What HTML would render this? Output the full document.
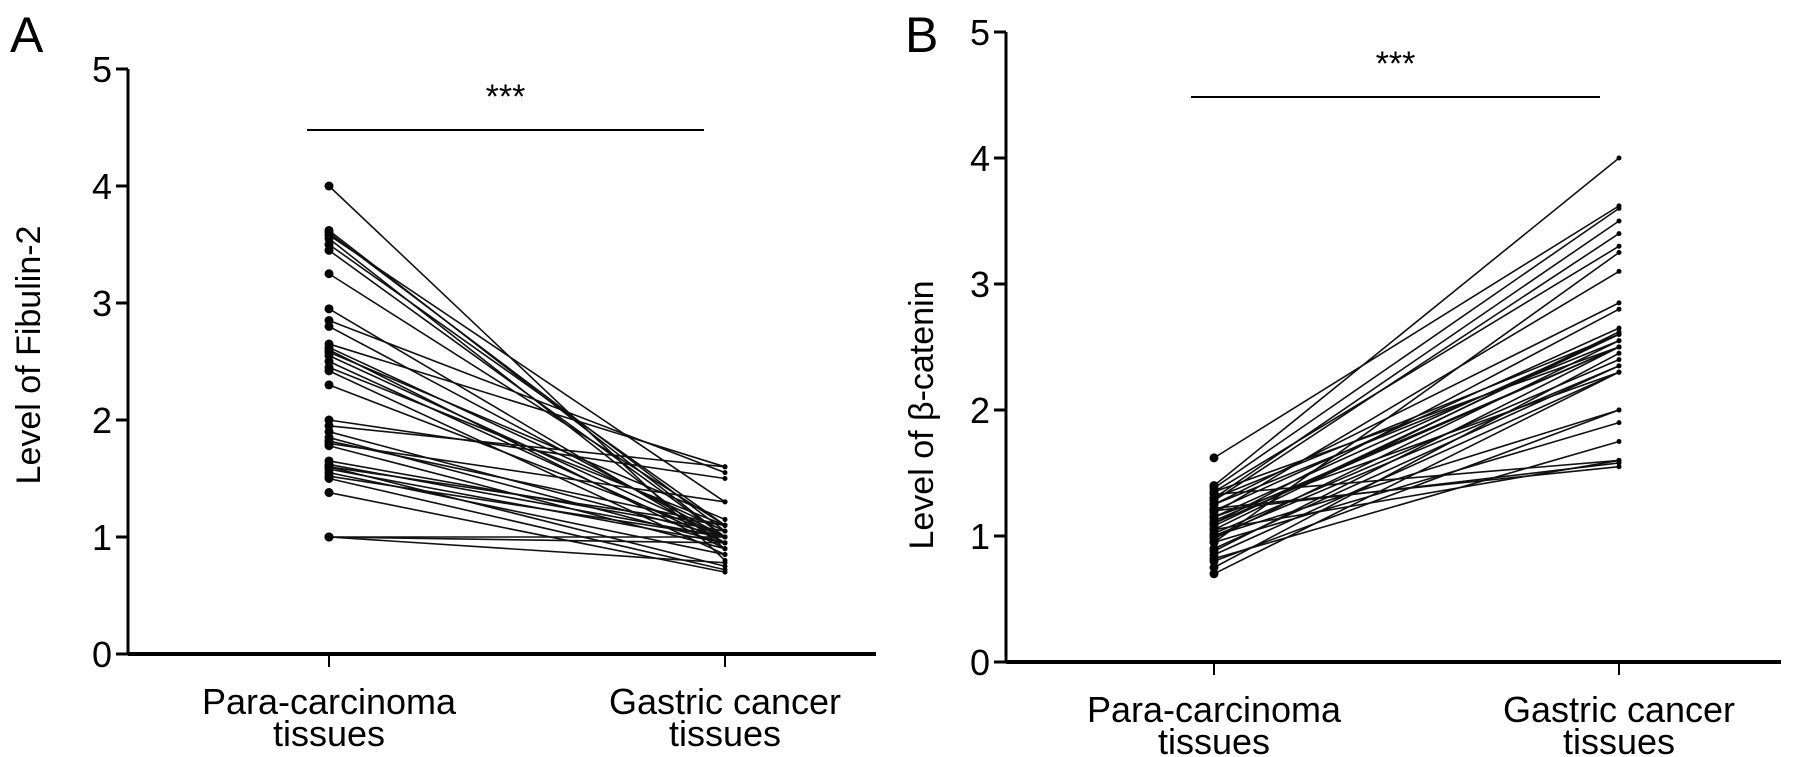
<!DOCTYPE html>
<html><head><meta charset="utf-8"><style>
html,body{margin:0;padding:0;background:#fff;}
svg{display:block;font-family:"Liberation Sans",Arial,sans-serif;}
</style></head><body>
<svg id="fig" width="1795" height="757" viewBox="0 0 1795 757" xmlns="http://www.w3.org/2000/svg">
<text x="10" y="52" font-size="50">A</text>
<text x="905" y="52" font-size="50">B</text>
<g id="pa"></g>
<g id="pb"></g>
</svg>
<script>
const categories = ["Para-carcinoma tissues", "Gastric cancer tissues"];
const yTicks = [0, 1, 2, 3, 4, 5];
const fibulinPara = [4.0,3.62,3.6,3.58,3.55,3.5,3.45,3.25,2.95,2.85,2.8,2.65,2.62,2.6,2.58,2.55,2.5,2.45,2.42,2.3,2.0,1.95,1.9,1.85,1.82,1.8,1.78,1.65,1.62,1.6,1.6,1.58,1.55,1.52,1.5,1.38,1.0,1.0,1.0];
const fibulinGastric = [0.8,1.0,1.05,1.3,0.9,1.1,1.0,1.1,0.95,1.55,1.0,1.6,1.05,0.9,1.15,1.0,0.95,1.1,0.85,1.0,1.5,1.6,1.0,0.95,1.1,1.3,0.9,1.05,1.0,0.75,1.1,0.95,0.85,1.0,0.72,0.7,1.0,0.95,0.78];
const cateninPara = [1.62,1.4,1.38,1.35,1.33,1.3,1.3,1.28,1.25,1.22,1.2,1.18,1.15,1.12,1.1,1.08,1.05,1.02,1.0,0.98,0.95,0.9,0.88,0.85,0.82,0.8,0.75,0.7,1.35,1.25,1.15,1.05,0.95,1.2,1.1,1.0];
const cateninGastric = [3.62,4.0,3.6,2.5,1.6,3.5,2.6,3.4,2.55,1.55,2.65,3.1,2.3,2.5,2.8,2.6,1.6,2.4,2.0,2.55,1.9,2.35,2.5,2.3,1.75,2.0,2.45,2.3,3.3,2.85,2.6,2.62,3.25,1.58,2.5,2.35];

const NS = "http://www.w3.org/2000/svg";
function mk(parent, tag, attrs, text){
  const e = document.createElementNS(NS, tag);
  for (const k in attrs) e.setAttribute(k, attrs[k]);
  if (text !== undefined) e.textContent = text;
  parent.appendChild(e);
  return e;
}
function drawPanel(g, cfg, para, gas){
  const yS = v => cfg.y0 - v * cfg.unit;
  const xS = i => cfg.xs[i];
  const ya = mk(g, "line", {x1:cfg.ax, y1:yS(5), x2:cfg.ax, y2:cfg.y0, stroke:"#000", "stroke-width":3});
  
  
  yTicks.forEach(t => {
    const tk = mk(g, "line", {x1:cfg.ax-12, y1:yS(t), x2:cfg.ax, y2:yS(t), stroke:"#000", "stroke-width":3});
    
    
    const tl = mk(g, "text", {x:cfg.ax-16, y:yS(t)+13, "font-size":36, "text-anchor":"end"}, String(t));
    
    
  });
  const xa = mk(g, "line", {x1:cfg.ax, y1:cfg.y0, x2:cfg.xend, y2:cfg.y0, stroke:"#000", "stroke-width":4});
  
  
  categories.forEach((c, i) => {
    const tk = mk(g, "line", {x1:xS(i), y1:cfg.y0, x2:xS(i), y2:cfg.y0+13, stroke:"#000", "stroke-width":2});
    
    
    const parts = c.split(" ");
    const l1 = parts.slice(0, -1).join(" "), l2 = parts[parts.length-1];
    const t1 = mk(g, "text", {x:xS(i), y:cfg.y0+60, "font-size":36, "text-anchor":"middle"}, l1);
    
    
    const t2 = mk(g, "text", {x:xS(i), y:cfg.y0+92, "font-size":36, "text-anchor":"middle"}, l2);
    
    
  });
  const yt = mk(g, "text", {x:0, y:0, "font-size":34, "text-anchor":"middle", transform:`translate(${cfg.tx},${cfg.ty}) rotate(-90)`}, cfg.title);
  
  
  const br = mk(g, "line", {x1:cfg.bx1, y1:cfg.by, x2:cfg.bx2, y2:cfg.by, stroke:"#000", "stroke-width":2});
  
  
  const st = mk(g, "text", {x:(cfg.bx1+cfg.bx2)/2, y:cfg.by-22, "font-size":34, "text-anchor":"middle"}, "***");
  
  
  para.forEach((v, i) => {
    const ln = mk(g, "line", {x1:xS(0), y1:yS(v), x2:xS(1), y2:yS(gas[i]), stroke:"#111", "stroke-width":1.6});
    
    
  });
  para.forEach((v, i) => {
    const p = mk(g, "circle", {cx:xS(0), cy:yS(v), r:4.5, fill:"#000"});
    
    
    const q = mk(g, "circle", {cx:xS(1), cy:yS(gas[i]), r:2.5, fill:"#000"});
    
    
  });
}
drawPanel(document.getElementById("pa"), {ax:128, y0:654, unit:117, xs:[329,725], xend:876, tx:40, ty:355, title:"Level of Fibulin-2", bx1:307, bx2:704, by:130}, fibulinPara, fibulinGastric);
drawPanel(document.getElementById("pb"), {ax:1006, y0:662, unit:126, xs:[1214,1619], xend:1781, tx:933, ty:415, title:"Level of β-catenin", bx1:1191, bx2:1600, by:97}, cateninPara, cateninGastric);
</script>
</body></html>
